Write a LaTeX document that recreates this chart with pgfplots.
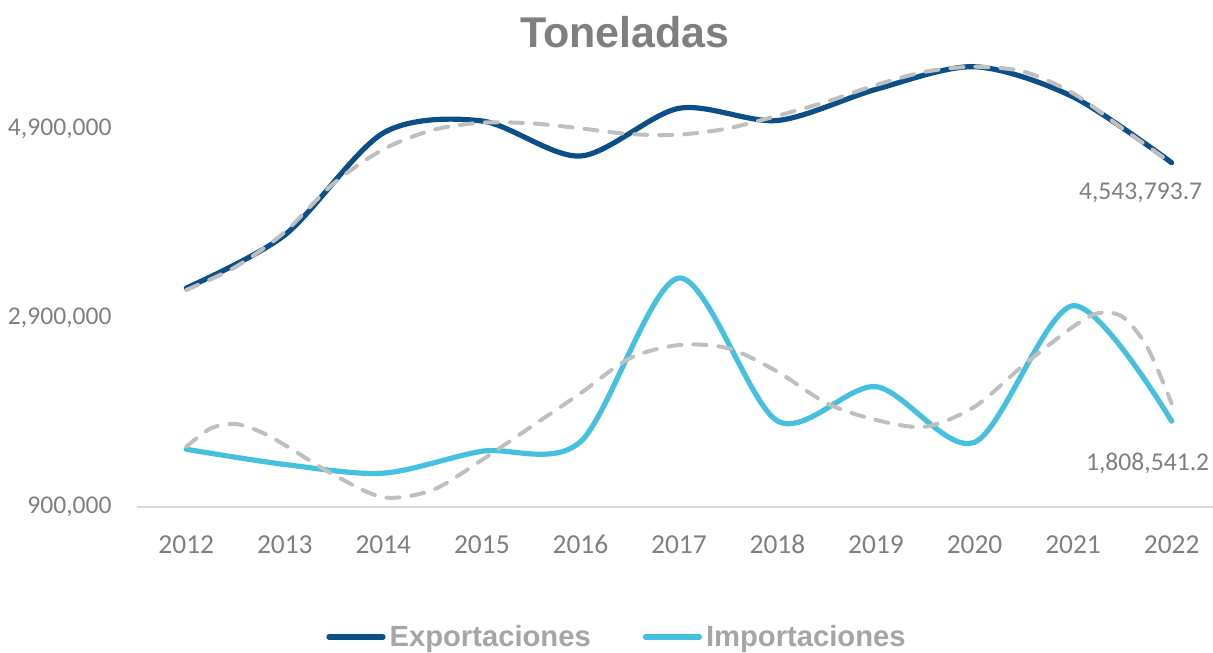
\documentclass[border=0pt]{standalone}
\usepackage{pgfplots}
\pgfplotsset{compat=1.18}
\usepackage{fontspec}
\setmainfont{Carlito}
\newfontfamily\arialf{Liberation Sans}
\definecolor{expc}{HTML}{0B4F86}
\definecolor{impc}{HTML}{45C0DF}
\definecolor{trendc}{HTML}{BFBFBF}
\definecolor{txtc}{HTML}{7F7F7F}
\definecolor{titc}{HTML}{7F7F7F}
\definecolor{legc}{HTML}{A5A5A5}
\definecolor{axc}{HTML}{D9D9D9}
\begin{document}
\begin{tikzpicture}[x=1pt,y=1pt]
\begin{axis}[
  at={(68.5pt,72.5pt)}, anchor=south west,
  scale only axis, width=538pt, height=236.25pt,
  xmin=2011.5, xmax=2022.42, ymin=900000, ymax=5900000,
  clip=false,
  axis x line*=bottom, axis y line*=left,
  x axis line style={-, draw=axc, line width=1pt},
  y axis line style={draw=none},
  major tick length=0pt,
  scaled x ticks=false, scaled y ticks=false,
  xtick={2012,2013,2014,2015,2016,2017,2018,2019,2020,2021,2022},
  xticklabels={2012,2013,2014,2015,2016,2017,2018,2019,2020,2021,2022},
  xticklabel style={font=\fontsize{13.7}{16}\selectfont, text=txtc, anchor=base, inner sep=0pt, yshift=-23.2pt},
  ytick={900000,2900000,4900000},
  yticklabels={{900,000},{2,900,000},{4,900,000}},
  yticklabel style={font=\fontsize{12.8}{15}\selectfont, text=txtc, anchor=east, inner sep=0pt, xshift=-12.5pt},
  legend style={at={(0.447,-0.275)}, anchor=center, draw=none, fill=none,
    font=\arialf\bfseries\fontsize{14.6}{17}\selectfont, text=legc,
    legend columns=2, inner sep=0pt,
    /tikz/every even column/.append style={column sep=24pt}},
  legend image code/.code={\draw[#1, line cap=round] (0pt,0pt) -- (27pt,0pt);},
]
\addplot[expc, line width=2.6pt, smooth, line cap=round] coordinates {
 (2012,3217000) (2013,3778000) (2014,4858000) (2015,4985000) (2016,4614000)
 (2017,5119000) (2018,4990000) (2019,5320000) (2020,5559000) (2021,5240000)
 (2022,4543793.7)};
\addlegendentry{Exportaciones}
\addplot[impc, line width=2.6pt, smooth, line cap=round] coordinates {
 (2012,1511000) (2013,1350000) (2014,1258000) (2015,1490000) (2016,1590000)
 (2017,3323000) (2018,1810000) (2019,2173000) (2020,1585000) (2021,3030000)
 (2022,1808541.2)};
\addlegendentry{Importaciones}
\addplot[trendc, line width=2pt, smooth, line cap=round, dash pattern=on 6.5pt off 6pt, forget plot] coordinates {
 (2012,3196000) (2012.5,3440000) (2013,3810000) (2013.5,4328000) (2014,4685000)
 (2014.5,4889000) (2015,4967000) (2015.5,4960000) (2016,4907000) (2016.5,4847000)
 (2017,4840000) (2017.5,4907000) (2018,5040000) (2018.5,5189000) (2019,5366000)
 (2019.5,5506000) (2020,5559000) (2020.5,5506000) (2021,5278000) (2021.5,4907000)
 (2022,4537000)};
\addplot[trendc, line width=2pt, smooth, line cap=round, dash pattern=on 6.5pt off 6pt, forget plot] coordinates {
 (2012,1538000) (2012.25,1733000) (2012.5,1778000) (2012.75,1697000) (2013,1556000)
 (2013.5,1239000) (2014,1003000) (2014.5,1080000) (2015,1397000) (2015.5,1750000)
 (2016,2103000) (2016.5,2473000) (2017,2614000) (2017.5,2579000) (2018,2332000)
 (2018.5,1997000) (2019,1821000) (2019.5,1750000) (2020,1961000) (2020.5,2403000)
 (2021,2808000) (2021.25,2950000) (2021.5,2914000) (2021.75,2596000) (2022,1997000)};
\node[anchor=base, font=\fontsize{12.8}{15}\selectfont, text=txtc, xshift=-15.5pt, yshift=-18.4pt] at (axis cs:2022,4543793.7) {4,543,793.7};
\node[anchor=base, font=\fontsize{12.8}{15}\selectfont, text=txtc, xshift=-12pt, yshift=-24.5pt] at (axis cs:2022,1808541.2) {1,808,541.2};
\end{axis}
\node[anchor=base, font=\arialf\bfseries\fontsize{21.5}{25}\selectfont, text=titc] at (312.5,302) {Toneladas};
\pgfresetboundingbox
\path[use as bounding box] (0,0) rectangle (606.5,326);
\end{tikzpicture}
\end{document}
